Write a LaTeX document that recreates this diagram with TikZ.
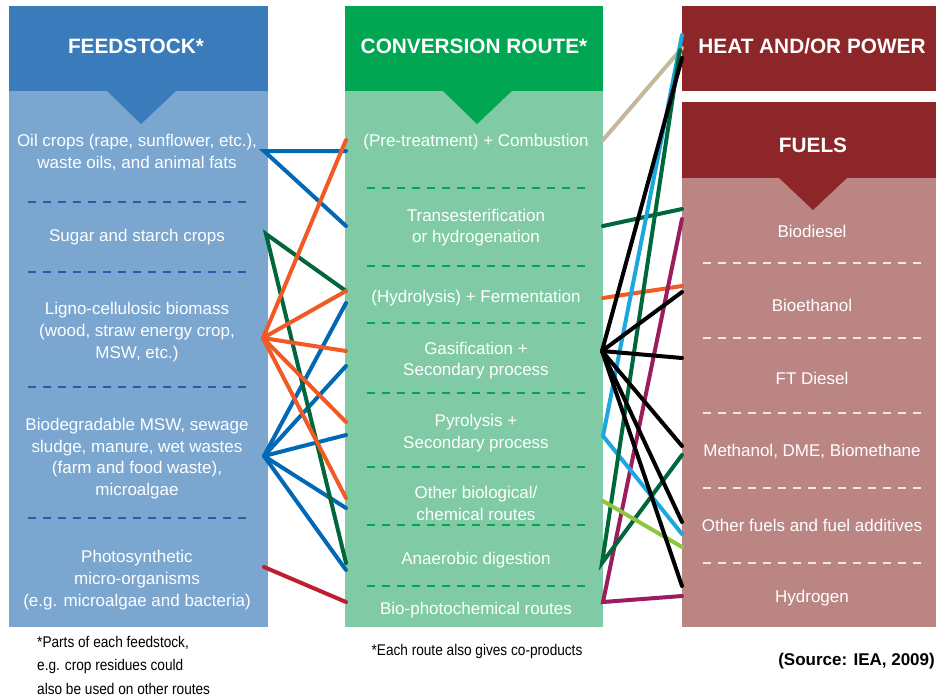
\documentclass[tikz,border=0pt]{standalone}
\usepackage{fontspec}
\setmainfont{Liberation Sans}
\newfontfamily\narrowfont[FakeStretch=0.88]{Liberation Sans}
\usetikzlibrary{positioning}

\definecolor{feedhead}{HTML}{3A7CBB}
\definecolor{feedbody}{HTML}{7AA6CF}
\definecolor{feeddash}{HTML}{2C5AA6}
\definecolor{convhead}{HTML}{00A651}
\definecolor{convbody}{HTML}{80CAA5}
\definecolor{outhead}{HTML}{8C2628}
\definecolor{outbody}{HTML}{BB8584}
\definecolor{outdash}{HTML}{F4E6E6}
\definecolor{lnblue}{HTML}{0068B4}
\definecolor{lnorange}{HTML}{F15A24}
\definecolor{lngreen}{HTML}{00673A}
\definecolor{lnred}{HTML}{BE1E2D}
\definecolor{lntan}{HTML}{C4B79C}
\definecolor{lncyan}{HTML}{1CA7E0}
\definecolor{lnmagenta}{HTML}{9B1C5F}
\definecolor{lnlime}{HTML}{8DC63F}

\begin{document}
\begin{tikzpicture}[x=1pt, y=-1pt,
  head/.style={text=white, font=\fontsize{20.8}{25}\selectfont\bfseries},
  item/.style={text=white, align=center, font=\fontsize{17}{21.7}\selectfont},
  note/.style={align=left, inner sep=0pt, font=\narrowfont\fontsize{15.5}{23.5}\selectfont},
  sep/.style={line width=2pt, dash pattern=on 8pt off 7pt},
  link/.style={line width=4pt, line cap=round}]
\useasboundingbox (0,0) rectangle (936,697);

\fill[feedbody] (9,91) rectangle (268,627);
\fill[feedhead] (9,6) rectangle (268,91);
\fill[feedhead] (106,90) -- (177,90) -- (141,124) -- cycle;
\fill[convbody] (345,91) rectangle (603,627);
\fill[convhead] (345,6) rectangle (603,91);
\fill[convhead] (442,90) -- (513,90) -- (477,124) -- cycle;
\fill[outhead] (682,6) rectangle (936,91);
\fill[outbody] (682,178) rectangle (936,627);
\fill[outhead] (682,102) rectangle (936,178);
\fill[outhead] (778,177) -- (848,177) -- (813,210) -- cycle;

\foreach \y in {202,272,387,518} \draw[sep, feeddash] (28,\y) -- (250,\y);
\foreach \y in {188,266,323,393,467,525,586} \draw[sep, convhead] (367,\y) -- (589,\y);
\foreach \y in {263,338,413,488,563} \draw[sep, outdash] (703,\y) -- (925,\y);

\node[head] (feed) at (136,46) {FEEDSTOCK*};
\node[head] (conv) at (474,46) {CONVERSION ROUTE*};
\node[head] (heat) at (812,46) {HEAT AND/OR POWER};
\node[head] (fuels) at (813,145) {FUELS};

\node[item] (oil) at (137,152.5) {Oil crops (rape, sunflower, etc.),\\waste oils, and animal fats};
\node[item] (sugar) at (137,237) {Sugar and starch crops};
\node[item] (ligno) at (137,332) {Ligno-cellulosic biomass\\(wood, straw energy crop,\\MSW, etc.)};
\node[item] (biodeg) at (137,458.5) {Biodegradable MSW, sewage\\sludge, manure, wet wastes\\(farm and food waste),\\microalgae};
\node[item] (photo) at (137,580) {Photosynthetic\\micro-organisms\\(e.g. microalgae and bacteria)};

\node[item] (comb) at (476,142) {(Pre-treatment) + Combustion};
\node[item] (trans) at (476,227.5) {Transesterification\\or hydrogenation};
\node[item] (ferm) at (476,298) {(Hydrolysis) + Fermentation};
\node[item] (gasif) at (476,360.5) {Gasification +\\Secondary process};
\node[item] (pyrol) at (476,433) {Pyrolysis +\\Secondary process};
\node[item] (other) at (476,503.5) {Other biological/\\chemical routes};
\node[item] (anaer) at (476,560) {Anaerobic digestion};
\node[item] (bioph) at (476,610) {Bio-photochemical routes};

\node[item] (bdsl) at (812,231) {Biodiesel};
\node[item] (beth) at (812,305) {Bioethanol};
\node[item] (ftd) at (812,378) {FT Diesel};
\node[item] (meth) at (812,451) {Methanol, DME, Biomethane};
\node[item] (ofuel) at (812,525) {Other fuels and fuel additives};
\node[item] (hydr) at (812,598) {Hydrogen};

\coordinate (oil-e) at (264,151);
\coordinate (sugar-e) at (266,234);
\coordinate (ligno-e) at (263,338);
\coordinate (biodeg-e) at (264,456);
\coordinate (photo-e) at (264,567);

\coordinate (comb-w1) at (346,140);
\coordinate (comb-w2) at (346,151);
\coordinate (trans-w) at (346,226);
\coordinate (ferm-w1) at (346,291);
\coordinate (ferm-w2) at (346,303);
\coordinate (gasif-w1) at (346,351);
\coordinate (gasif-w2) at (346,366);
\coordinate (pyrol-w1) at (346,422);
\coordinate (pyrol-w2) at (346,435);
\coordinate (other-w1) at (346,498);
\coordinate (other-w2) at (346,508);
\coordinate (anaer-w1) at (346,563);
\coordinate (anaer-w2) at (346,570);
\coordinate (bioph-w) at (346,602);

\coordinate (comb-e) at (603,140);
\coordinate (trans-e) at (603,226);
\coordinate (ferm-e) at (603,298);
\coordinate (gasif-e) at (602,351);
\coordinate (pyrol-e) at (603,436);
\coordinate (other-e) at (603,501);
\coordinate (anaer-e) at (602,563);
\coordinate (bioph-e) at (603,602);

\coordinate (heat-w1) at (682,35);
\coordinate (heat-w2) at (682,48);
\coordinate (heat-w3) at (680,50);
\coordinate (heat-w4) at (682,58);
\coordinate (bdsl-w1) at (682,209);
\coordinate (bdsl-w2) at (682,219);
\coordinate (beth-w1) at (682,286);
\coordinate (beth-w2) at (682,292);
\coordinate (ftd-w) at (682,358);
\coordinate (meth-w1) at (682,446);
\coordinate (meth-w2) at (682,455);
\coordinate (ofuel-w1) at (682,522);
\coordinate (ofuel-w2) at (682,534);
\coordinate (ofuel-w3) at (682,547);
\coordinate (hydr-w1) at (682,586);
\coordinate (hydr-w2) at (682,596);

\draw[link, lnblue] (comb-w2) -- (oil-e) -- (trans-w);
\draw[link, lnblue] (biodeg-e) -- (ferm-w2);
\draw[link, lnblue] (biodeg-e) -- (gasif-w2);
\draw[link, lnblue] (biodeg-e) -- (pyrol-w2);
\draw[link, lnblue] (biodeg-e) -- (other-w2);
\draw[link, lnblue] (biodeg-e) -- (anaer-w2);
\draw[link, lngreen] (ferm-w1) -- (sugar-e) -- (anaer-w1);
\draw[link, lnorange] (ligno-e) -- (comb-w1);
\draw[link, lnorange] (ligno-e) -- (ferm-w1);
\draw[link, lnorange] (ligno-e) -- (gasif-w1);
\draw[link, lnorange] (ligno-e) -- (pyrol-w1);
\draw[link, lnorange] (ligno-e) -- (other-w1);
\draw[link, lnred] (photo-e) -- (bioph-w);

\draw[link, lntan] (comb-e) -- (heat-w2);
\draw[link, lngreen] (trans-e) -- (bdsl-w1);
\draw[link, lnorange] (ferm-e) -- (beth-w1);
\draw[link, lnmagenta] (bdsl-w2) -- (bioph-e) -- (hydr-w2);
\draw[link, lncyan] (heat-w1) -- (pyrol-e) -- (ofuel-w2);
\draw[link, lngreen] (heat-w3) -- (anaer-e) -- (meth-w2);
\draw[link, lnlime] (other-e) -- (ofuel-w3);
\draw[link, black] (gasif-e) -- (heat-w4);
\draw[link, black] (gasif-e) -- (beth-w2);
\draw[link, black] (gasif-e) -- (ftd-w);
\draw[link, black] (gasif-e) -- (meth-w1);
\draw[link, black] (gasif-e) -- (ofuel-w1);
\draw[link, black] (gasif-e) -- (hydr-w1);

\node[note, anchor=west] (fnfeed) at (37,665) {*Parts of each feedstock,\\e.g. crop residues could\\also be used on other routes};
\node[note] (fnconv) at (477,651) {*Each route also gives co-products};
\node[note, anchor=east, font=\fontsize{17}{20}\selectfont\bfseries] (src) at (935,661) {(Source: IEA, 2009)};
\end{tikzpicture}
\end{document}
